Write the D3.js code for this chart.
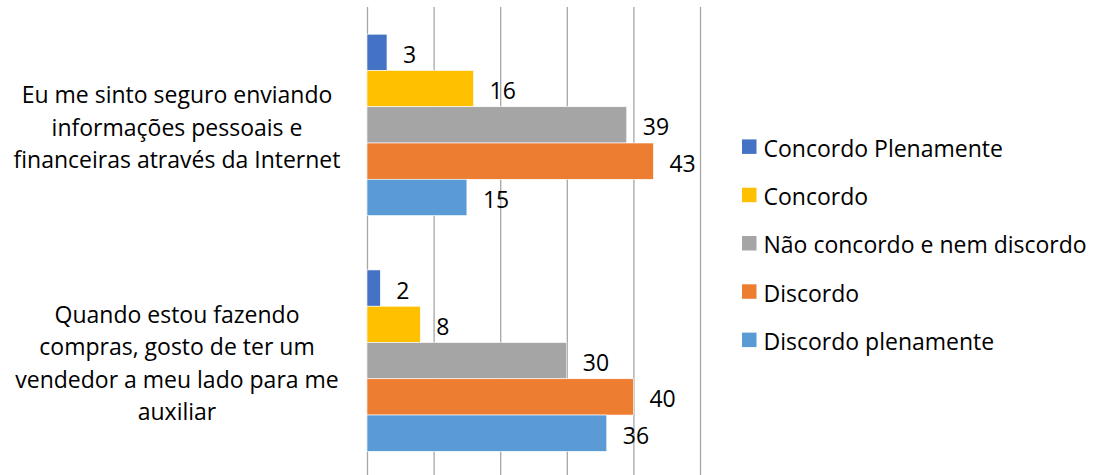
<!DOCTYPE html>
<html>
<head>
<meta charset="utf-8">
<script src="https://cdn.jsdelivr.net/npm/d3@7"></script>
<style>
  html, body { margin: 0; padding: 0; background: #fff; }
  svg { display: block; }
  text { font-family: "Open Sans", Lato, sans-serif; fill: #000; }
</style>
</head>
<body>
<svg id="chart" width="1094" height="475"></svg>
<script>
// ---- data ----
const categories = [
  "Eu me sinto seguro enviando informações pessoais e financeiras através da Internet",
  "Quando estou fazendo compras, gosto de ter um vendedor a meu lado para me auxiliar"
];
const categoryLines = [
  ["Eu me sinto seguro enviando", "informações pessoais e", "financeiras através da Internet"],
  ["Quando estou fazendo", "compras, gosto de ter um", "vendedor a meu lado para me", "auxiliar"]
];
const seriesNames = ["Concordo Plenamente", "Concordo", "Não concordo e nem discordo", "Discordo", "Discordo plenamente"];
const seriesColors = ["#4472C4", "#FFC000", "#A5A5A5", "#ED7D31", "#5B9BD5"];
const concordoPlenamente = [3, 2];
const concordo = [16, 8];
const naoConcordoNemDiscordo = [39, 30];
const discordo = [43, 40];
const discordoPlenamente = [15, 36];
const tickValues = [0, 10, 20, 30, 40, 50];

const seriesValues = [concordoPlenamente, concordo, naoConcordoNemDiscordo, discordo, discordoPlenamente];

// ---- layout ----
const svg = d3.select("#chart");
const fontSize = 23;

const x = d3.scaleLinear().domain([0, 50]).range([367, 700]);
const y = d3.scaleBand().domain(categories).range([7, 478.5])
  .paddingInner(1.5 / 6.5).paddingOuter(0.75 / 6.5);
const ySub = d3.scaleBand().domain(seriesNames).range([0, y.bandwidth()]).padding(0);

// gridlines
const grid = d3.axisBottom(x).tickValues(tickValues).tickSize(475 - 7).tickFormat("");
svg.append("g")
  .attr("transform", "translate(0,7)")
  .call(grid)
  .call(g => g.select(".domain").remove())
  .call(g => g.selectAll(".tick line").attr("stroke", "#A6A6A6").attr("stroke-width", 1.3));

// bars
const groups = svg.append("g").selectAll("g")
  .data(categories)
  .join("g")
  .attr("transform", d => `translate(0,${y(d)})`);

groups.each(function(cat, ci) {
  const g = d3.select(this);
  seriesNames.forEach((s, si) => {
    const v = seriesValues[si][ci];
    g.append("rect")
      .attr("x", x(0))
      .attr("y", ySub(s))
      .attr("width", x(v) - x(0))
      .attr("height", ySub.bandwidth())
      .attr("fill", seriesColors[si])
      .attr("stroke", "#fff")
      .attr("stroke-width", 0.6);
    g.append("text")
      .attr("x", x(v) + 16)
      .attr("y", ySub(s) + ySub.bandwidth() / 2 + 1.5)
      .attr("dominant-baseline", "central")
      .attr("font-size", fontSize)
      .text(v);
  });
});

// category labels
const lineH = 32.5;
categories.forEach((cat, ci) => {
  const lines = categoryLines[ci];
  const cy = y(cat) + y.bandwidth() / 2 + 2;
  const t = svg.append("text")
    .attr("text-anchor", "middle")
    .attr("font-size", fontSize)
    .attr("dominant-baseline", "central");
  lines.forEach((ln, li) => {
    t.append("tspan")
      .attr("x", 177)
      .attr("y", cy + (li - (lines.length - 1) / 2) * lineH)
      .text(ln);
  });
});

// legend
const legend = svg.append("g").selectAll("g")
  .data(seriesNames)
  .join("g")
  .attr("transform", (d, i) => `translate(742,${146.7 + i * 48.3})`);
legend.append("rect")
  .attr("x", 0).attr("y", -7.3).attr("width", 14.5).attr("height", 14.5)
  .attr("fill", (d, i) => seriesColors[i]);
legend.append("text")
  .attr("x", 21.5).attr("y", 1)
  .attr("dominant-baseline", "central")
  .attr("font-size", fontSize)
  .text(d => d);
</script>
</body>
</html>
